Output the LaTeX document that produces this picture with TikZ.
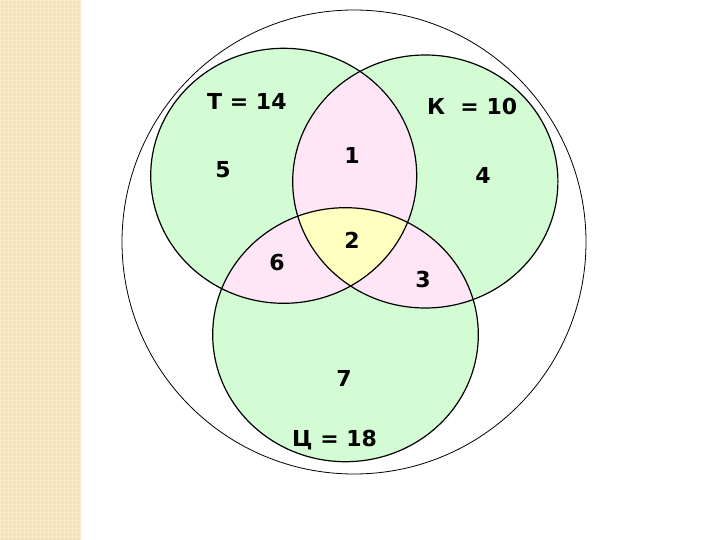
\documentclass[tikz,border=0pt]{standalone}
\usepackage{fontspec}
\setmainfont{DejaVu Sans}
\definecolor{strip}{HTML}{F2E2B6}
\definecolor{stripdot}{HTML}{F7EBC9}
\definecolor{vgreen}{HTML}{D4FCD4}
\definecolor{vpink}{HTML}{FFE6F6}
\definecolor{vyellow}{HTML}{FFFFC0}
\tikzset{
  lbl/.style={inner sep=0pt, font=\bfseries\fontsize{22}{26}\selectfont},
  setline/.style={draw=black, line width=1.2pt},
  outerline/.style={draw=black, line width=0.8pt}
}
\begin{document}
\begin{tikzpicture}[x=1pt,y=-1pt]
\useasboundingbox (0,0) rectangle (720,540);
\fill[white] (0,0) rectangle (720,540);
\fill[strip] (0,0) rectangle (80,540);
\draw[stripdot, line width=0.6pt, step=4pt] (0,0) grid (80,540);
% outer universe
\draw[outerline] (354,242) ellipse [x radius=232, y radius=232];
% set shapes
\def\ellT{(283.7,175.8) ellipse [x radius=133, y radius=127.5]}
\def\ellK{(425.3,181.5) ellipse [x radius=132.6, y radius=126.5]}
\def\ellC{(345.5,334.7) ellipse [x radius=132.8, y radius=127]}
\fill[vgreen] \ellT;
\fill[vgreen] \ellK;
\fill[vgreen] \ellC;
\begin{scope}
  \clip \ellT;
  \fill[vpink] \ellK;
  \fill[vpink] \ellC;
  \clip \ellK;
  \fill[vyellow] \ellC;
\end{scope}
\begin{scope}
  \clip \ellK;
  \fill[vpink] \ellC;
  \clip \ellT;
  \fill[vyellow] \ellC;
\end{scope}
\draw[setline] \ellT;
\draw[setline] \ellK;
\draw[setline] \ellC;
% labels
\node[lbl, anchor=base west] (t) at (207,110) {Т = 14};
\node[lbl, anchor=base west] (k) at (427,115) {К \ = 10};
\node[lbl, anchor=base west] (c) at (292,446) {Ц = 18};
\node[lbl] (n1) at (352,155) {1};
\node[lbl] (n5) at (223,170) {5};
\node[lbl] (n4) at (483,175) {4};
\node[lbl] (n2) at (352,240) {2};
\node[lbl] (n6) at (277,263) {6};
\node[lbl] (n3) at (423,279) {3};
\node[lbl] (n7) at (344,378) {7};
\end{tikzpicture}
\end{document}
